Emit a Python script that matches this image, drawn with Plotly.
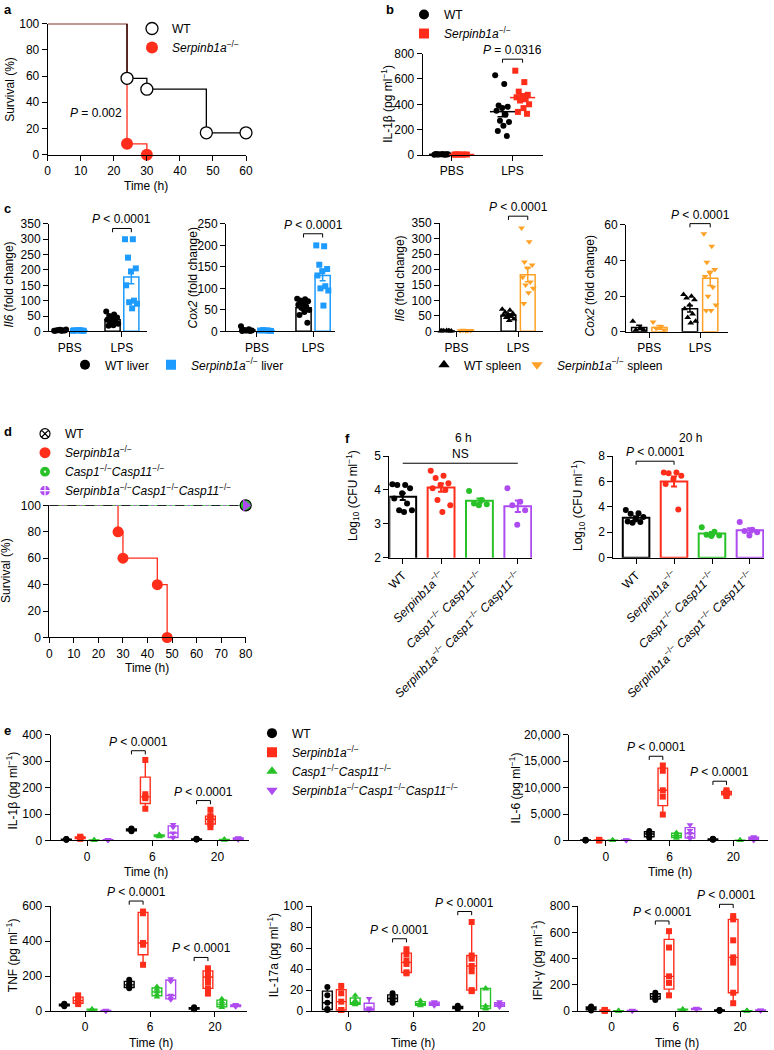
import numpy as np
import plotly.graph_objects as go

RED = '#FF2D1A'
BLUE = '#1E9BFF'
ORANGE = '#FFA126'
GREEN = '#28C228'
PURPLE = '#AE4BF0'

KO = '<i>Serpinb1a</i><sup>−/−</sup>'
CASP = '<i>Casp1</i><sup>−/−</sup><i>Casp11</i><sup>−/−</sup>'
TRIPLE = KO + CASP

# ---------------- data ----------------
# a: survival (%)
A_WT_T = [0, 24, 30, 48, 60]
A_WT_S = [100, 58.3, 50, 16.7, 16.7]
A_KO_T = [0, 24, 30]
A_KO_S = [100, 8.3, 0]

# b: serum IL-1b (pg/ml), PBS / LPS
B_CAT = ['PBS', 'LPS']
B_WT = [[3, 5, 6, 4, 5, 7, 3, 4, 6, 5, 4, 5],
        [630, 560, 390, 380, 370, 350, 320, 270, 260, 230, 190, 150]]
B_KO = [[3, 4, 5, 4, 3, 4],
        [665, 575, 500, 475, 465, 455, 440, 430, 400, 370, 340, 325]]
B_WT_MEAN = [5, 342]
B_WT_SEM = [0.5, 40]
B_KO_MEAN = [4, 453]
B_KO_SEM = [0.4, 28]

# c: fold change, PBS / LPS
C_IL6_LIVER_WT = [[2, 3, 4, 3, 5, 2, 3, 4, 6, 2], [65, 55, 50, 45, 40, 38, 35, 30, 25, 20, 18]]
C_IL6_LIVER_KO = [[2, 3, 3, 2, 4, 3, 2], [300, 300, 240, 205, 195, 150, 100, 95, 90, 75]]
C_IL6_LIVER_MEAN = [[3.5, 38], [3, 177]]
C_IL6_LIVER_SEM = [[0.5, 4.5], [0.4, 22]]

C_COX2_LIVER_WT = [[12, 5, 3, 2, 2, 1, 1, 2], [76, 75, 72, 70, 66, 62, 58, 55, 50, 45, 38, 20]]
C_COX2_LIVER_KO = [[2, 2, 3, 1, 2], [200, 198, 155, 145, 140, 130, 105, 100, 95, 60]]
C_COX2_LIVER_MEAN = [[3, 55], [2, 130]]
C_COX2_LIVER_SEM = [[1.2, 5], [0.3, 12]]

C_IL6_SPLEEN_WT = [[1, 2, 2, 1, 3, 2, 1], [72, 68, 62, 58, 55, 52, 48, 45, 40, 35]]
C_IL6_SPLEEN_KO = [[2, 3, 4, 3, 2], [335, 290, 225, 215, 205, 175, 160, 150, 140, 125, 90]]
C_IL6_SPLEEN_MEAN = [[1.5, 52], [3, 183]]
C_IL6_SPLEEN_SEM = [[0.3, 4], [0.4, 22]]

C_COX2_SPLEEN_WT = [[6, 2, 1, 1], [21, 20, 19, 18, 15, 13, 10, 8, 6, 5]]
C_COX2_SPLEEN_KO = [[5.5, 3, 2, 1], [55, 48, 39, 35, 33, 31, 25, 20, 15, 12, 12]]
C_COX2_SPLEEN_MEAN = [[2.5, 13], [2.5, 30]]
C_COX2_SPLEEN_SEM = [[1.2, 1.8], [1.0, 4]]

# d: survival (%)
D_KO_T = [0, 28, 30, 44, 48]
D_KO_S = [100, 80, 60, 40, 0]
D_REST_T = [0, 80]
D_REST_S = [100, 100]

# f: log10 CFU/ml, WT / KO / Casp / triple
F_CAT = ['WT', KO, '<i>Casp1</i><sup>−/−</sup> <i>Casp11</i><sup>−/−</sup>',
         '<i>Serpinb1a</i><sup>−/−</sup> <i>Casp1</i><sup>−/−</sup> <i>Casp11</i><sup>−/−</sup>']
F_6H = [[4.17, 4.15, 4.15, 4.05, 3.9, 3.75, 3.6, 3.4, 3.4, 3.35],
        [4.57, 4.42, 4.35, 4.2, 4.15, 4.05, 4.0, 3.7, 3.55, 3.35],
        [3.97, 3.7, 3.6, 3.58, 3.55],
        [4.05, 3.65, 3.55, 3.4, 2.97]]
F_6H_MEAN = [3.8, 4.07, 3.68, 3.52]
F_6H_SEM = [0.1, 0.12, 0.07, 0.17]
F_20H = [[3.75, 3.5, 3.45, 3.2, 3.0, 2.85, 2.8, 2.75],
         [6.7, 6.7, 6.65, 6.45, 6.2, 5.8, 3.8],
         [2.4, 2.05, 1.8, 1.75, 1.7],
         [2.8, 2.2, 2.1, 2.0, 1.75]]
F_20H_MEAN = [3.15, 6.0, 1.9, 2.15]
F_20H_SEM = [0.12, 0.4, 0.13, 0.17]

# e: cytokines (pg/ml) at 0 / 6 / 20 h
E_TIMES = ['0', '6', '20']
IL1B_WT = [[2, 3, 4, 5, 3], [35, 38, 40, 42, 45], [3, 4, 5, 6, 4]]
IL1B_KO = [[6, 8, 10, 12, 14], [305, 175, 165, 160, 120], [116, 92, 88, 80, 72, 62, 50]]
IL1B_CASP = [[0, 1, 1, 2, 1], [14, 16, 18, 20, 22], [1, 2, 3, 4, 3]]
IL1B_TRIPLE = [[1, 2, 3, 2, 1], [60, 50, 28, 12, 10], [2, 4, 5, 8, 10]]

IL6_WT = [[0, 20, 50, 80, 100], [500, 900, 1200, 1500, 1800], [100, 150, 200, 250, 300]]
IL6_KO = [[0, 30, 60, 90, 100], [14200, 13200, 9500, 8300, 4900], [8400, 8700, 8900, 9000, 9200, 9500]]
IL6_CASP = [[0, 10, 20, 30, 40], [400, 700, 900, 1200, 1500], [0, 10, 20, 30, 50]]
IL6_TRIPLE = [[0, 20, 40, 60, 80], [300, 600, 1300, 1900, 2950], [0, 100, 300, 500, 700]]

TNF_WT = [[28, 32, 35, 38, 42], [130, 140, 150, 160, 180], [10, 12, 15, 18, 22]]
TNF_KO = [[40, 50, 60, 70, 90], [570, 560, 390, 380, 265], [245, 230, 200, 195, 165, 130, 100]]
TNF_CASP = [[5, 6, 8, 10, 12], [80, 95, 110, 125, 140], [20, 30, 40, 55, 70]]
TNF_TRIPLE = [[0, 1, 2, 3, 4], [185, 170, 90, 75, 65], [25, 28, 30, 33, 38]]

IL17_WT = [[23, 15, 8, 2, 1], [8, 10, 12, 14, 17], [2, 3, 3.5, 4, 5]]
IL17_KO = [[24, 17, 9, 1, 1], [59, 54, 48, 45, 37, 36], [85, 53, 50, 43, 38, 20, 19]]
IL17_CASP = [[15, 10, 8, 7, 6], [5, 6, 7, 8, 10], [22, 21, 5, 3, 2]]
IL17_TRIPLE = [[12, 3, 2, 1, 1], [5, 6, 7, 8, 9], [4, 5, 6, 7, 9]]

IFNG_WT = [[5, 15, 20, 28, 35], [85, 100, 110, 125, 140], [2, 4, 5, 7, 9]]
IFNG_KO = [[2, 4, 5, 7, 9], [610, 485, 265, 215, 120], [725, 700, 540, 410, 370, 140, 60]]
IFNG_CASP = [[0, 1, 2, 3, 4], [8, 10, 12, 14, 16], [0, 1, 2, 3, 4]]
IFNG_TRIPLE = [[1, 2, 3, 5, 6], [10, 13, 15, 18, 22], [2, 4, 5, 7, 9]]

# ---------------- layout helpers ----------------
W, H = 774, 1050
FONT = 'Liberation Sans, Arial, sans-serif'
FS = 12

AX = {
    1: dict(px=(47.7, 246), py=(21.7, 153), xr=[0, 60], yr=[0, 100], dy=20),
    2: dict(px=(422.7, 543), py=(51.7, 153.3), xr=[-0.475, 1.5], yr=[0, 800], dy=200),
    3: dict(px=(49, 146.7), py=(222.3, 330), xr=[-0.4, 1.475], yr=[0, 350], dy=50),
    4: dict(px=(226, 335), py=(222.3, 330), xr=[-0.55, 1.39], yr=[0, 250], dy=50),
    5: dict(px=(440, 542.7), py=(221.7, 330), xr=[-0.27, 1.4], yr=[0, 350], dy=50),
    6: dict(px=(626, 728), py=(223.3, 330.5), xr=[-0.46, 1.55], yr=[0, 60], dy=20),
    7: dict(px=(49.3, 245.7), py=(504.3, 636.7), xr=[0, 80], yr=[0, 100], dy=20),
    8: dict(px=(389.3, 532), py=(455, 556.7), xr=[-0.35, 3.37], yr=[2, 5], dy=1),
    9: dict(px=(613.3, 764), py=(455, 556.7), xr=[-0.6, 3.37], yr=[0, 8], dy=2),
    10: dict(px=(50.7, 249.3), py=(734.3, 840), xr=[-0.56, 2.49], yr=[0, 400], dy=100),
    11: dict(px=(569, 767.7), py=(734.3, 840), xr=[-0.58, 2.54], yr=[0, 20000], dy=5000),
    12: dict(px=(50.7, 246.7), py=(906, 1011), xr=[-0.53, 2.49], yr=[0, 600], dy=200),
    13: dict(px=(311.7, 509.3), py=(906, 1011), xr=[-0.56, 2.47], yr=[0, 100], dy=20),
    14: dict(px=(578.3, 768.3), py=(906, 1011), xr=[-0.52, 2.44], yr=[0, 800], dy=200),
}


def ax(n):
    return ('x' if n == 1 else f'x{n}'), ('y' if n == 1 else f'y{n}')


def yfrac(n, v):
    lo, hi = AX[n]['yr']
    return (v - lo) / (hi - lo)


def jitter(n, spread):
    return (((np.arange(n) * 0.618034) % 1.0) - 0.5) * 2 * spread


fig = go.Figure()
shapes = []
annotations = []


def add_bar(n, x, mean, sem, pts, color, symbol, bw, spread, lw=1.5, msize=6):
    xa, ya = ax(n)
    fig.add_trace(go.Bar(x=[x], y=[mean], width=bw, xaxis=xa, yaxis=ya, showlegend=False,
                         marker=dict(color='white', line=dict(color=color, width=lw)),
                         error_y=dict(type='data', array=[sem], color=color, thickness=lw, width=3)))
    fig.add_trace(go.Scatter(x=x + jitter(len(pts), spread), y=pts, mode='markers', xaxis=xa, yaxis=ya,
                             marker=dict(symbol=symbol, color=color, size=msize, line=dict(width=0)),
                             cliponaxis=False, showlegend=False))


def add_box(n, x, pts, color, symbol):
    xa, ya = ax(n)
    q1, med, q3 = np.percentile(pts, [25, 50, 75], method='weibull')
    fig.add_trace(go.Box(x=[x], q1=[q1], median=[med], q3=[q3], lowerfence=[min(pts)], upperfence=[max(pts)],
                         width=0.15, whiskerwidth=0, line=dict(color=color, width=1.4),
                         fillcolor='rgba(0,0,0,0)', boxpoints=False, xaxis=xa, yaxis=ya, showlegend=False))
    fig.add_trace(go.Scatter(x=[x] * len(pts), y=pts, mode='markers', xaxis=xa, yaxis=ya,
                             marker=dict(symbol=symbol, color=color, size=6, line=dict(width=0)),
                             cliponaxis=False, showlegend=False))


def bracket(n, x1, x2, yv, text, leg=0.035):
    xa, ya = ax(n)
    f = yfrac(n, yv)
    shapes.append(dict(type='path', xref=xa, yref=f'{ya} domain',
                       path=f'M {x1},{f - leg} L {x1},{f} L {x2},{f} L {x2},{f - leg}',
                       line=dict(color='black', width=1)))
    annotations.append(dict(x=(x1 + x2) / 2, y=f, xref=xa, yref=f'{ya} domain', text=text,
                            showarrow=False, yanchor='bottom', font=dict(size=FS)))


def text_px(x, y, text, size=FS, angle=0, bold=False, xanchor='center'):
    if bold:
        text = f'<b>{text}</b>'
    annotations.append(dict(x=x / W, y=1 - y / H, xref='paper', yref='paper', text=text, showarrow=False,
                            textangle=angle, xanchor=xanchor, yanchor='middle', font=dict(size=size)))


def legend_item(name, legend, symbol, color, size=10, line_color=None, line_width=0):
    fig.add_trace(go.Scatter(x=[None], y=[None], mode='markers', name=name, legend=legend,
                             marker=dict(symbol=symbol, color=color, size=size,
                                         line=dict(color=line_color or color, width=line_width))))


PVAL = '<i>P</i> &lt; 0.0001'

# ---------------- a ----------------
xa, ya = ax(1)
fig.add_trace(go.Scatter(x=A_KO_T, y=A_KO_S, mode='lines', line=dict(color=RED, width=1.3, shape='hv'),
                         xaxis=xa, yaxis=ya, showlegend=False))
fig.add_trace(go.Scatter(x=A_WT_T, y=A_WT_S, mode='lines', line=dict(color='black', width=1.3, shape='hv'),
                         xaxis=xa, yaxis=ya, showlegend=False))
fig.add_trace(go.Scatter(x=A_WT_T[1:], y=A_WT_S[1:], mode='markers', xaxis=xa, yaxis=ya, cliponaxis=False,
                         marker=dict(size=12, color='white', line=dict(color='black', width=1.3)),
                         showlegend=False))
fig.add_trace(go.Scatter(x=A_KO_T[1:], y=A_KO_S[1:], mode='markers', xaxis=xa, yaxis=ya, cliponaxis=False,
                         marker=dict(size=12, color=RED, line=dict(width=0)), showlegend=False))
annotations.append(dict(x=14.6, y=32, xref=xa, yref=ya, text='<i>P</i> = 0.002', showarrow=False,
                        font=dict(size=FS)))
legend_item('WT', 'legend', 'circle', 'white', 12, 'black', 1.3)
legend_item(KO, 'legend', 'circle', RED, 12)

# ---------------- b ----------------
for i in range(2):
    for pts, mean, sem, color, symbol, off in [(B_WT[i], B_WT_MEAN[i], B_WT_SEM[i], 'black', 'circle', -0.165),
                                                (B_KO[i], B_KO_MEAN[i], B_KO_SEM[i], RED, 'square', 0.165)]:
        xa, ya = ax(2)
        fig.add_trace(go.Scatter(x=i + off + jitter(len(pts), 0.12), y=pts, mode='markers', xaxis=xa, yaxis=ya,
                                 marker=dict(symbol=symbol, color=color, size=6), cliponaxis=False,
                                 showlegend=False))
        fig.add_trace(go.Scatter(x=[i + off], y=[mean], mode='markers', xaxis=xa, yaxis=ya, cliponaxis=False,
                                 marker=dict(symbol='line-ew', size=18, line=dict(color=color, width=1.5)),
                                 error_y=dict(type='data', array=[sem], color=color, thickness=1.5, width=5),
                                 showlegend=False))
bracket(2, 1 - 0.165, 1 + 0.165, 756, '<i>P</i> = 0.0316')
legend_item('WT', 'legend2', 'circle', 'black', 10)
legend_item(KO, 'legend2', 'square', RED, 10)

# ---------------- c ----------------
C_PANELS = [
    (3, C_IL6_LIVER_WT, C_IL6_LIVER_KO, C_IL6_LIVER_MEAN, C_IL6_LIVER_SEM, BLUE, 'circle', 'square', 0.18, 0.29, 335),
    (4, C_COX2_LIVER_WT, C_COX2_LIVER_KO, C_COX2_LIVER_MEAN, C_COX2_LIVER_SEM, BLUE, 'circle', 'square', 0.17, 0.27, 227),
    (5, C_IL6_SPLEEN_WT, C_IL6_SPLEEN_KO, C_IL6_SPLEEN_MEAN, C_IL6_SPLEEN_SEM, ORANGE, 'triangle-up', 'triangle-down', 0.157, 0.24, 373),
    (6, C_COX2_SPLEEN_WT, C_COX2_SPLEEN_KO, C_COX2_SPLEEN_MEAN, C_COX2_SPLEEN_SEM, ORANGE, 'triangle-up', 'triangle-down', 0.2, 0.3, 60.7),
]
for n, wt, ko, means, sems, color, s_wt, s_ko, off, bw, ybr in C_PANELS:
    for i in range(2):
        add_bar(n, i - off, means[0][i], sems[0][i], wt[i], 'black', s_wt, bw, bw * 0.42)
        add_bar(n, i + off, means[1][i], sems[1][i], ko[i], color, s_ko, bw, bw * 0.42)
    bracket(n, 1 - off, 1 + off, ybr, PVAL)

legend_item('WT liver', 'legend3', 'circle', 'black', 10)
legend_item(KO + ' liver', 'legend4', 'square', BLUE, 10)
legend_item('WT spleen', 'legend5', 'triangle-up', 'black', 10)
legend_item(KO + ' spleen', 'legend6', 'triangle-down', ORANGE, 10)

# ---------------- d ----------------
xa, ya = ax(7)
fig.add_trace(go.Scatter(x=D_KO_T, y=D_KO_S, mode='lines', line=dict(color=RED, width=1.3, shape='hv'),
                         xaxis=xa, yaxis=ya, showlegend=False))
fig.add_trace(go.Scatter(x=D_REST_T, y=D_REST_S, mode='lines', line=dict(color=GREEN, width=1.3),
                         xaxis=xa, yaxis=ya, showlegend=False))
fig.add_trace(go.Scatter(x=D_REST_T, y=D_REST_S, mode='lines', line=dict(color=PURPLE, width=1.3, dash='dot'),
                         xaxis=xa, yaxis=ya, showlegend=False))
fig.add_trace(go.Scatter(x=D_REST_T, y=D_REST_S, mode='lines', line=dict(color='black', width=1.3, dash='dash'),
                         xaxis=xa, yaxis=ya, showlegend=False))
fig.add_trace(go.Scatter(x=D_KO_T[1:], y=D_KO_S[1:], mode='markers', xaxis=xa, yaxis=ya, cliponaxis=False,
                         marker=dict(size=11, color=RED, line=dict(width=0)), showlegend=False))
fig.add_trace(go.Scatter(x=D_REST_T[1:], y=D_REST_S[1:], mode='markers', xaxis=xa, yaxis=ya, cliponaxis=False,
                         marker=dict(size=11, color=GREEN, line=dict(color='black', width=1.2)), showlegend=False))
fig.add_trace(go.Scatter(x=D_REST_T[1:], y=D_REST_S[1:], mode='markers', xaxis=xa, yaxis=ya, cliponaxis=False,
                         marker=dict(size=11, color=PURPLE, symbol='triangle-right', line=dict(width=0)),
                         showlegend=False))
legend_item('WT', 'legend7', 'circle-x-open', 'black', 10, 'black', 1.2)
legend_item(KO, 'legend7', 'circle', RED, 11)
legend_item(CASP, 'legend7', 'circle-dot', GREEN, 11, 'white', 1.2)
legend_item(TRIPLE, 'legend7', 'circle-cross', PURPLE, 11, 'white', 1.2)

# ---------------- f ----------------
F_COLORS = ['black', RED, GREEN, PURPLE]
for n, vals, means, sems in [(8, F_6H, F_6H_MEAN, F_6H_SEM), (9, F_20H, F_20H_MEAN, F_20H_SEM)]:
    for i in range(4):
        add_bar(n, i, means[i], sems[i], vals[i], F_COLORS[i], 'circle', 0.7, 0.27, lw=2)
bracket(9, 0, 1, 7.6, PVAL)
xa, ya = ax(8)
f = yfrac(8, 4.79)
shapes.append(dict(type='line', xref=xa, yref=f'{ya} domain', x0=0, x1=3, y0=f, y1=f,
                   line=dict(color='black', width=1)))
annotations.append(dict(x=1.5, y=f, xref=xa, yref=f'{ya} domain', text='NS', showarrow=False,
                        yanchor='bottom', font=dict(size=FS)))

# ---------------- e ----------------
E_OFF = [-0.32, -0.107, 0.107, 0.32]
E_COLORS = ['black', RED, GREEN, PURPLE]
E_SYMBOLS = ['circle', 'square', 'triangle-up', 'triangle-down']
E_PANELS = [
    (10, [IL1B_WT, IL1B_KO, IL1B_CASP, IL1B_TRIPLE], 340, 151),
    (11, [IL6_WT, IL6_KO, IL6_CASP, IL6_TRIPLE], 15950, 11220),
    (12, [TNF_WT, TNF_KO, TNF_CASP, TNF_TRIPLE], 630, 307),
    (13, [IL17_WT, IL17_KO, IL17_CASP, IL17_TRIPLE], 69, 95),
    (14, [IFNG_WT, IFNG_KO, IFNG_CASP, IFNG_TRIPLE], 688, 815),
]
for n, groups, y6, y20 in E_PANELS:
    for t in range(3):
        for g in range(4):
            add_box(n, t + E_OFF[g], groups[g][t], E_COLORS[g], E_SYMBOLS[g])
    bracket(n, 1 + E_OFF[0], 1 + E_OFF[1], y6, PVAL)
    bracket(n, 2 + E_OFF[0], 2 + E_OFF[1], y20, PVAL)

legend_item('WT', 'legend8', 'circle', 'black', 10)
legend_item(KO, 'legend8', 'square', RED, 10)
legend_item(CASP, 'legend8', 'triangle-up', GREEN, 10)
legend_item(TRIPLE, 'legend8', 'triangle-down', PURPLE, 10)

# ---------------- axes ----------------
layout = {}
for n, a in AX.items():
    xk = 'xaxis' if n == 1 else f'xaxis{n}'
    yk = 'yaxis' if n == 1 else f'yaxis{n}'
    xa, ya = ax(n)
    common = dict(showline=True, linecolor='black', linewidth=1, ticks='outside', ticklen=5, tickwidth=1,
                  tickcolor='black', showgrid=False, zeroline=False, automargin=False,
                  tickfont=dict(size=FS, color='black'))
    xd = dict(common, domain=[a['px'][0] / W, a['px'][1] / W], anchor=ya, range=a['xr'])
    if n in (1, 7):
        xd['dtick'] = 10
    elif n in (2, 3, 4, 5, 6):
        xd.update(tickvals=[0, 1], ticktext=B_CAT)
    elif n in (8, 9):
        xd.update(tickvals=[0, 1, 2, 3], ticktext=F_CAT, tickangle=-45)
    else:
        xd.update(tickvals=[0, 1, 2], ticktext=E_TIMES)
    yd = dict(common, domain=[1 - a['py'][1] / H, 1 - a['py'][0] / H], anchor=xa, range=a['yr'],
              dtick=a['dy'], tickformat=',')
    layout[xk] = xd
    layout[yk] = yd

# axis titles and panel letters
text_px(10, 88, 'Survival (%)', angle=-90)
text_px(146, 184, 'Time (h)')
text_px(387, 102, 'IL-1β (pg ml<sup>−1</sup>)', angle=-90)
text_px(9, 283, '<i>Il6</i> (fold change)', angle=-90)
text_px(193, 277, '<i>Cox2</i> (fold change)', angle=-90)
text_px(400, 277, '<i>Il6</i> (fold change)', angle=-90)
text_px(590, 285, '<i>Cox2</i> (fold change)', angle=-90)
text_px(6, 570, 'Survival (%)', angle=-90)
text_px(147, 667, 'Time (h)')
text_px(463, 437, '6 h')
text_px(690, 437, '20 h')
text_px(353, 495, 'Log<sub>10</sub> (CFU ml<sup>−1</sup>)', angle=-90)
text_px(578, 505, 'Log<sub>10</sub> (CFU ml<sup>−1</sup>)', angle=-90)
text_px(12, 790, 'IL-1β (pg ml<sup>−1</sup>)', angle=-90)
text_px(515, 788, 'IL-6 (pg ml<sup>−1</sup>)', angle=-90)
text_px(12, 955, 'TNF (pg ml<sup>−1</sup>)', angle=-90)
text_px(273, 955, 'IL-17a (pg ml<sup>−1</sup>)', angle=-90)
text_px(537, 960, 'IFN-γ (pg ml<sup>−1</sup>)', angle=-90)
for cx, cy in [(146, 872), (670, 872), (151, 1043), (413, 1043), (677, 1043)]:
    text_px(cx, cy, 'Time (h)')
for cx, cy, letter in [(2, 8, 'a'), (384, 8, 'b'), (2, 207, 'c'), (2, 430, 'd'), (2, 730, 'e'), (343, 437, 'f')]:
    text_px(cx, cy, letter, size=13, bold=True, xanchor='left')


def leg(x, y):
    return dict(x=x / W, y=1 - y / H, xanchor='left', yanchor='top', bgcolor='rgba(0,0,0,0)',
                font=dict(size=FS, color='black'), borderwidth=0, indentation=-8)


fig.update_layout(
    width=W, height=H, margin=dict(l=0, r=0, t=0, b=0),
    paper_bgcolor='white', plot_bgcolor='white',
    font=dict(family=FONT, size=FS, color='black'),
    barmode='overlay', boxmode='overlay',
    shapes=shapes, annotations=annotations,
    legend=leg(140, 12),
    legend2=leg(412, -2),
    legend3=leg(73, 349),
    legend4=leg(159, 349),
    legend5=leg(432, 349),
    legend6=leg(525, 349),
    legend7=leg(33, 418),
    legend8=leg(260, 718),
    **layout,
)

# the page has a default 8px body margin; drop it so the figure sits at the window corner
fig.write_html('out.html', config={'displayModeBar': False},
               post_script="document.body.style.margin='0';")
